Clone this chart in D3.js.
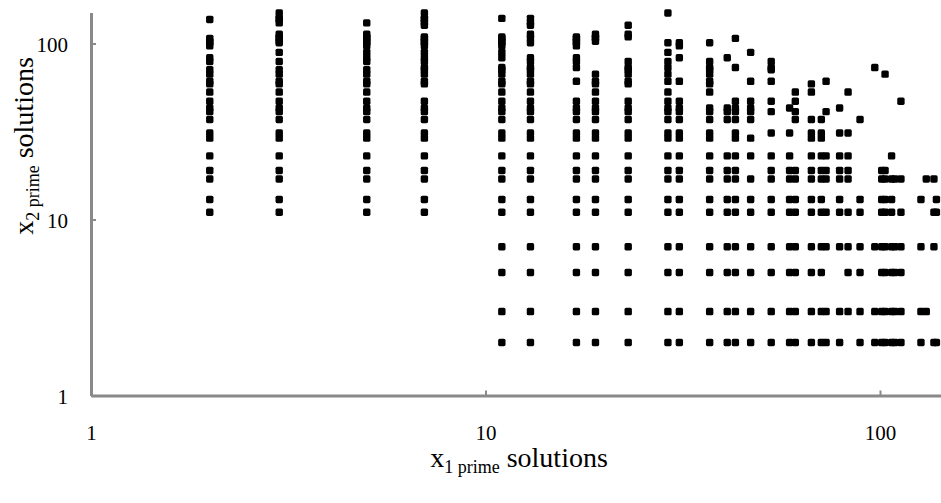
<!DOCTYPE html>
<html>
<head>
<meta charset="utf-8">
<script src="https://cdn.jsdelivr.net/npm/d3@7/dist/d3.min.js"></script>
<style>
  html, body { margin: 0; padding: 0; background: #fff; }
  svg { display: block; font-family: "Liberation Serif", "Times New Roman", serif; }
</style>
</head>
<body>
<svg id="chart" width="941" height="503"></svg>
<script>
// x1 prime values (one column of points per value)
const x1Primes = [2, 3, 5, 7, 11, 13, 17, 19, 23, 29, 31, 37, 41, 43, 47, 53, 59, 61, 67, 71, 73, 79, 83, 89, 97, 101, 103, 107, 109, 113, 127, 131, 137, 139];

// x2 prime solutions for each x1 value (same order as x1Primes)
const x2Solutions = [
  [11,13,17,19,23,29,31,37,41,43,47,53,59,61,67,71,79,83,97,101,103,107,137],
  [11,13,17,19,23,29,31,37,41,43,47,53,59,61,67,71,79,89,101,103,107,109,113,131,137,139,149],
  [11,13,17,19,23,29,31,37,41,43,47,53,59,61,67,71,79,83,89,97,101,103,107,109,113,131],
  [11,13,17,19,23,29,31,37,41,43,47,59,61,67,71,73,79,83,89,97,101,103,107,109,127,131,137,139,149],
  [2,3,5,7,11,13,17,19,23,29,31,37,41,43,47,53,59,61,67,71,73,83,89,97,101,103,107,109,139],
  [2,3,5,7,11,13,17,19,23,29,31,37,41,43,47,53,59,61,67,71,73,79,83,101,107,113,127,131,139],
  [2,3,5,7,11,13,17,19,23,29,31,37,41,43,47,61,73,79,83,97,101,103,107,109],
  [2,3,5,7,11,13,17,19,23,29,31,37,41,43,47,53,59,61,67,103,107,109,113],
  [2,3,5,7,11,13,17,19,23,29,31,37,41,43,47,59,61,67,71,73,79,109,113,127],
  [2,3,5,7,11,13,17,19,23,29,31,37,41,43,47,53,61,67,73,79,89,101,149],
  [2,3,5,7,11,13,17,19,23,29,31,37,41,43,47,61,83,97,101],
  [2,3,5,7,11,13,17,19,23,29,31,37,41,43,53,59,61,67,71,73,79,101],
  [2,3,5,7,11,13,17,19,23,37,41,43,83],
  [2,3,5,7,11,13,17,19,23,29,31,37,41,43,47,73,107],
  [2,3,5,7,11,13,17,23,29,37,41,43,47,61,89],
  [2,3,5,7,11,13,17,19,23,31,41,47,61,71,73,79],
  [2,3,5,7,11,13,17,19,23,31,43],
  [2,3,5,7,11,13,17,19,37,41,47,53],
  [2,3,5,7,11,13,17,19,23,29,31,37,53,59],
  [2,3,5,7,11,13,17,19,23,29,31,37],
  [2,3,7,11,17,19,23,41,61],
  [2,3,7,11,13,17,19,23,31,43],
  [3,5,7,11,17,19,23,31,53],
  [2,3,5,7,11,13,37],
  [2,3,7,73],
  [2,3,5,7,11,13,17,19],
  [2,3,5,7,11,13,17,19,67],
  [2,3,5,7,11,13,17,23],
  [2,3,5,7,17],
  [2,3,5,7,11,17,47],
  [2,3,7,13],
  [3,17],
  [2,7,11,17],
  [2,11,13]
];

const xTickValues = [1, 10, 100];
const yTickValues = [1, 10, 100];
const xTitleMain = "x", xTitleSub = "1 prime", titleRest = " solutions";
const yTitleMain = "x", yTitleSub = "2 prime";

const points = [];
x1Primes.forEach((xv, i) => x2Solutions[i].forEach(yv => points.push({ x: xv, y: yv })));

const svg = d3.select("#chart");
const axisColor = "#898989";

const x = d3.scaleLog().domain([1, 150]).range([91, 91 + 394.5 * Math.log10(150)]);
const y = d3.scaleLog().domain([1, 150]).range([395.5, 395.5 - 176 * Math.log10(150)]);

// axes
const xAxis = svg.append("g").attr("transform", `translate(0,${y(1)})`)
  .call(d3.axisBottom(x).tickValues(xTickValues).tickFormat(d3.format("d"))
    .tickSizeInner(-5).tickSizeOuter(0).tickPadding(30));
const yAxis = svg.append("g").attr("transform", `translate(${x(1)},0)`)
  .call(d3.axisLeft(y).tickValues(yTickValues).tickFormat(d3.format("d"))
    .tickSizeInner(-5).tickSizeOuter(0).tickPadding(23));

[xAxis, yAxis].forEach(g => {
  g.select(".domain").attr("stroke", axisColor).attr("stroke-width", 3);
  g.selectAll(".tick line").attr("stroke", axisColor).attr("stroke-width", 2);
  g.selectAll(".tick text").attr("fill", "#000")
    .style("font-family", '"Liberation Serif", "Times New Roman", serif')
    .style("font-size", "21px");
});
yAxis.selectAll(".tick text").attr("dy", "0.38em");

// points
svg.append("g").selectAll("rect").data(points).join("rect")
  .attr("x", d => x(d.x) - 3.7)
  .attr("y", d => y(d.y) - 3.7)
  .attr("width", 7.4).attr("height", 7.4)
  .attr("rx", 1.6).attr("ry", 1.6)
  .attr("fill", "#000");

// x title
const xt = svg.append("text")
  .attr("x", 519).attr("y", 467)
  .attr("text-anchor", "middle")
  .style("font-size", "28px").attr("fill", "#000");
xt.append("tspan").text(xTitleMain);
xt.append("tspan").attr("dy", 6).style("font-size", "18px").text(xTitleSub);
xt.append("tspan").attr("dy", -6).text(titleRest);

// y title
const yt = svg.append("text")
  .attr("transform", "translate(33,146) rotate(-90)")
  .attr("text-anchor", "middle")
  .style("font-size", "28px").attr("fill", "#000");
yt.append("tspan").text(yTitleMain);
yt.append("tspan").attr("dy", 6).style("font-size", "18px").text(yTitleSub);
yt.append("tspan").attr("dy", -6).text(titleRest);
</script>
</body>
</html>
